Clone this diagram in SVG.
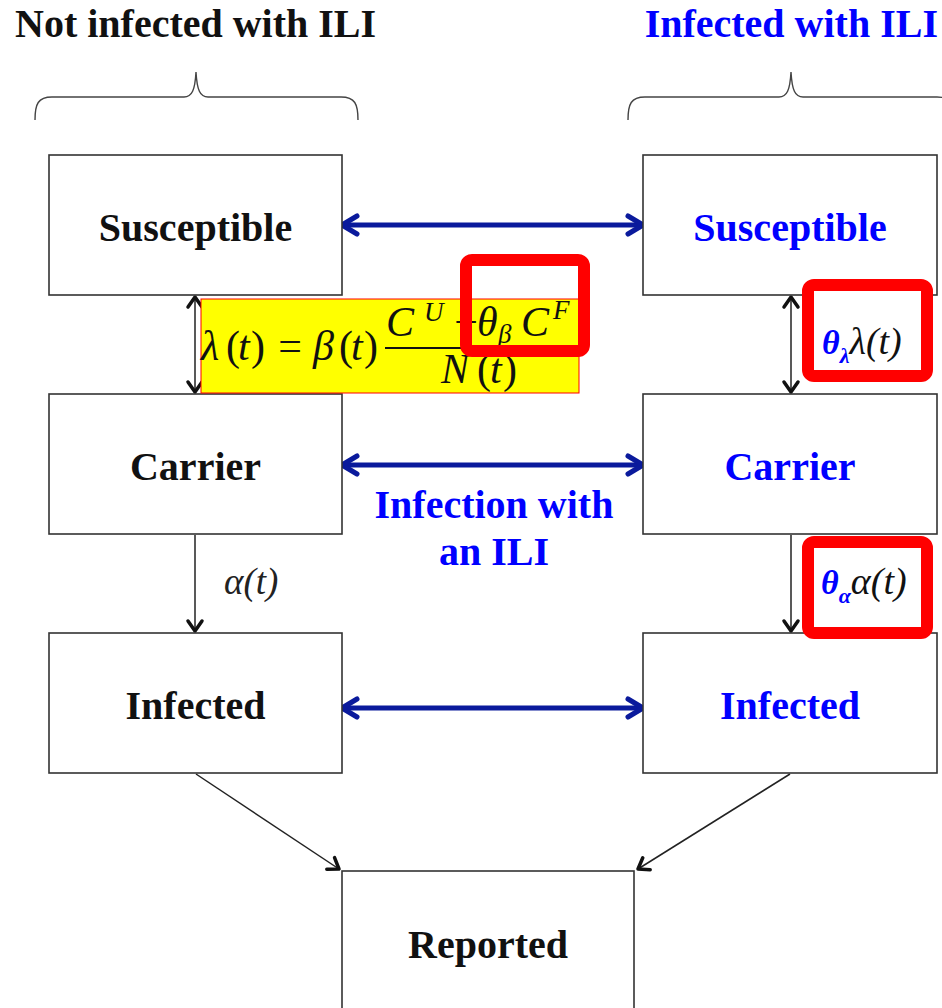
<svg xmlns="http://www.w3.org/2000/svg" width="942" height="1008" viewBox="0 0 942 1008">
<style>
.box{fill:#fff;stroke:#333;stroke-width:1.6}
.lbl{font-family:"Liberation Serif","Times New Roman",serif;font-weight:bold;font-size:40px;text-anchor:middle}
.blk{fill:#111}
.blu{fill:#0000ff}
.math{font-family:"Liberation Serif","Times New Roman",serif;font-size:42px;fill:#111}
.it{font-style:italic}
.sc{font-size:27px}
.nav{stroke:#0a1a9c;stroke-width:5;fill:none}
.thin{stroke:#222;stroke-width:1.5;fill:none}
.brace{stroke:#444;stroke-width:1.4;fill:none}
.hl{fill:none;stroke:#ff0000;stroke-width:12}
</style>
<defs>
<marker id="navHead" viewBox="-22 -13 28 26" refX="-4" refY="0" markerWidth="28" markerHeight="26" markerUnits="userSpaceOnUse" orient="auto-start-reverse">
<path d="M-16,-9 L-1,0 L-16,9" fill="none" stroke="#0a1a9c" stroke-width="5" stroke-linecap="round" stroke-linejoin="round"/>
</marker>
<marker id="blkHead" viewBox="-16 -10 20 20" refX="-1" refY="0" markerWidth="20" markerHeight="20" markerUnits="userSpaceOnUse" orient="auto-start-reverse">
<path d="M-11,-7 L-1,0 L-11,7" fill="none" stroke="#111" stroke-width="3.5" stroke-linecap="round" stroke-linejoin="round"/>
</marker>
</defs>

<g id="headers">
<text x="15" y="37" class="lbl blk" style="text-anchor:start">Not infected with ILI</text>
<text x="938" y="37" class="lbl blu" style="text-anchor:end">Infected with ILI</text>
<path class="brace" d="M35,120 C35,104 38,97 52,97 L184,97 C192,97 195,90 196,72 C197,90 200,97 208,97 L341,97 C355,97 358,104 358,120"/>
<path class="brace" d="M628,120 C628,104 631,97 645,97 L779,97 C787,97 790,90 791,72 C792,90 795,97 803,97 L937,97 C951,97 954,104 954,120"/>
</g>

<g id="connectors">
<line class="nav" x1="345" y1="225" x2="640" y2="225" marker-start="url(#navHead)" marker-end="url(#navHead)"/>
<line class="nav" x1="345" y1="465" x2="640" y2="465" marker-start="url(#navHead)" marker-end="url(#navHead)"/>
<line class="nav" x1="345" y1="708" x2="640" y2="708" marker-start="url(#navHead)" marker-end="url(#navHead)"/>
<line class="thin" x1="195" y1="297" x2="195" y2="392" marker-start="url(#blkHead)" marker-end="url(#blkHead)"/>
<line class="thin" x1="791" y1="297" x2="791" y2="392" marker-start="url(#blkHead)" marker-end="url(#blkHead)"/>
<line class="thin" x1="195" y1="535" x2="195" y2="631" marker-end="url(#blkHead)"/>
<line class="thin" x1="791" y1="535" x2="791" y2="631" marker-end="url(#blkHead)"/>
<line class="thin" x1="196" y1="774" x2="339" y2="869" marker-end="url(#blkHead)"/>
<line class="thin" x1="790" y1="774" x2="638" y2="869" marker-end="url(#blkHead)"/>
</g>

<g id="node-susceptible-u">
<rect class="box" x="49" y="155" width="293" height="140"/>
<text class="lbl blk" x="195.5" y="241">Susceptible</text>
</g>
<g id="node-susceptible-i">
<rect class="box" x="643" y="155" width="294" height="140"/>
<text class="lbl blu" x="790" y="241">Susceptible</text>
</g>
<g id="node-carrier-u">
<rect class="box" x="49" y="394" width="293" height="140"/>
<text class="lbl blk" x="195.5" y="480">Carrier</text>
</g>
<g id="node-carrier-i">
<rect class="box" x="643" y="394" width="294" height="140"/>
<text class="lbl blu" x="790" y="480">Carrier</text>
</g>
<g id="node-infected-u">
<rect class="box" x="49" y="633" width="293" height="140"/>
<text class="lbl blk" x="195.5" y="719">Infected</text>
</g>
<g id="node-infected-i">
<rect class="box" x="643" y="633" width="294" height="140"/>
<text class="lbl blu" x="790" y="719">Infected</text>
</g>
<g id="node-reported">
<rect class="box" x="342" y="871" width="292" height="150"/>
<text class="lbl blk" x="488" y="958">Reported</text>
</g>

<g id="label-infection">
<text class="lbl blu" x="494" y="518">Infection with</text>
<text class="lbl blu" x="494" y="565">an ILI</text>
</g>

<g id="label-alpha">
<text class="math it" x="224" y="594" style="font-size:37px;fill:#222">α(t)</text>
</g>

<g id="label-formula">
<rect x="201" y="299" width="378" height="94" fill="#ffff00" stroke="#ff0000" stroke-width="1"/>
<text class="math it" x="201" y="360">λ</text>
<text class="math" x="226" y="360">(</text>
<text class="math it" x="238" y="360">t</text>
<text class="math" x="251" y="360">)</text>
<text class="math" x="290" y="360" text-anchor="middle">=</text>
<text class="math it" x="313" y="360">β</text>
<text class="math" x="339" y="360">(</text>
<text class="math it" x="351" y="360">t</text>
<text class="math" x="364" y="360">)</text>
<line x1="385" y1="348" x2="578" y2="348" stroke="#111" stroke-width="1.8"/>
<text class="math it" x="386" y="336">C</text>
<text class="math it sc" x="424" y="321">U</text>
<text class="math" x="466" y="336" text-anchor="middle">+</text>
<text class="math it" x="477" y="336">θ</text>
<text class="math it sc" x="498" y="343">β</text>
<text class="math it" x="521" y="336">C</text>
<text class="math it sc" x="553" y="319">F</text>
<text class="math it" x="441" y="383">N</text>
<text class="math" x="477" y="383">(</text>
<text class="math it" x="490" y="383">t</text>
<text class="math" x="503" y="383">)</text>
<rect class="hl" x="466" y="260" width="118" height="91" rx="6"/>
</g>

<g id="label-theta-lambda">
<rect class="hl" x="808" y="285" width="119" height="91" rx="6" style="fill:#fff"/>
<text class="math it" x="822" y="354" style="font-size:38px"><tspan style="fill:#0000ff;font-weight:bold;font-size:34px">θ</tspan><tspan dy="9" style="fill:#0000ff;font-weight:bold;font-size:22px">λ</tspan><tspan dy="-9">λ(t)</tspan></text>
</g>

<g id="label-theta-alpha">
<rect class="hl" x="808" y="542" width="119" height="91" rx="6" style="fill:#fff"/>
<text class="math it" x="821" y="594" style="font-size:38px"><tspan style="fill:#0000ff;font-weight:bold;font-size:34px">θ</tspan><tspan dy="9" style="fill:#0000ff;font-weight:bold;font-size:22px">α</tspan><tspan dy="-9">α(t)</tspan></text>
</g>
</svg>
